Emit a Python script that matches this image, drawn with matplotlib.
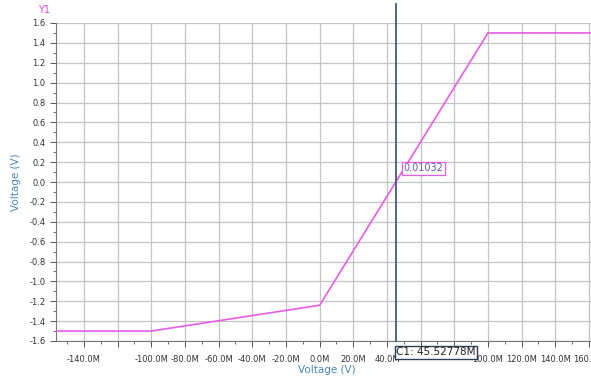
import matplotlib
matplotlib.use("Agg")
import matplotlib.pyplot as plt
import numpy as np
from matplotlib.ticker import MultipleLocator

# data (x in units of M, y in V)
x_vals = [-157, -100, 0, 100, 161]
y_vals = [-1.5, -1.5, -1.24, 1.5, 1.5]
cursor_x = 45.52778
cursor_val = 0.01032
x_tick_vals = [-140, -100, -80, -60, -40, -20, 0, 20, 40, 100, 120, 140, 160]
x_tick_labels = ["-140.0M", "-100.0M", "-80.0M", "-60.0M", "-40.0M", "-20.0M", "0.0M",
                 "20.0M", "40.0M", "100.0M", "120.0M", "140.0M", "160.0M"]
y_tick_vals = [-1.6, -1.4, -1.2, -1.0, -0.8, -0.6, -0.4, -0.2, 0.0, 0.2, 0.4, 0.6, 0.8, 1.0, 1.2, 1.4, 1.6]

fig = plt.figure(figsize=(5.91, 3.77), dpi=100)
ax = fig.add_axes([56/591, 36/377, 1 - 56/591 + 0.01, (341-23)/377])

ax.plot(x_vals, y_vals, color="#e85be8", lw=1.2, zorder=3)
ax.set_xlim(-156.6, 161.2 + 0.01*591/1.683)
ax.set_ylim(-1.6, 1.6)

ax.xaxis.set_minor_locator(MultipleLocator(10))
ax.yaxis.set_minor_locator(MultipleLocator(0.1))
ax.grid(True, which="major", color="#c4c4c4", lw=0.9)

major_x = list(np.arange(-140, 161, 20))
ax.set_xticks(major_x)
labels = []
for v in major_x:
    if v in x_tick_vals:
        labels.append(x_tick_labels[x_tick_vals.index(v)])
    else:
        labels.append("")
ax.set_xticklabels(labels)
ax.set_yticks(y_tick_vals)
ax.set_yticklabels(["%.1f" % v for v in y_tick_vals])

ax.tick_params(axis="both", which="major", labelsize=6, colors="#555555", labelcolor="#333333", length=4, width=0.7)
ax.tick_params(axis="both", which="minor", colors="#555555", length=2.5, width=0.6)
ax.tick_params(axis="x", pad=6)

for s in ["top", "right"]:
    ax.spines[s].set_visible(False)
for s in ["left", "bottom"]:
    ax.spines[s].set_color("#777777")
    ax.spines[s].set_linewidth(0.8)

ax.set_xlabel("Voltage (V)", color="#4a86b8", fontsize=7.5, labelpad=1)
ax.set_ylabel("Voltage (V)", color="#4a86b8", fontsize=7.5, labelpad=6)

# cursor
ax.axvline(cursor_x, color="#3d5a80", lw=1.3, zorder=4, ymin=0, ymax=1.06, clip_on=False)
ax.annotate("%.5f" % cursor_val, xy=(cursor_x, cursor_val), xytext=(5, 7),
            textcoords="offset points", fontsize=7, color="#5a5ab4",
            bbox=dict(boxstyle="square,pad=0.15", fc="white", ec="#e85be8", lw=0.9), zorder=6)
ax.annotate("C1: %.5fM" % cursor_x, xy=(cursor_x, -1.6), xytext=(0, -8),
            textcoords="offset points", fontsize=7.5, color="#222222", ha="left", va="center",
            annotation_clip=False,
            bbox=dict(boxstyle="square,pad=0.15", fc="white", ec="#2c3e5a", lw=1.0), zorder=7)

fig.text(44/591, 1 - 10/377, "Y1", color="#e040e0", fontsize=7, ha="center", va="center")

fig.savefig("out.png", dpi=100)
